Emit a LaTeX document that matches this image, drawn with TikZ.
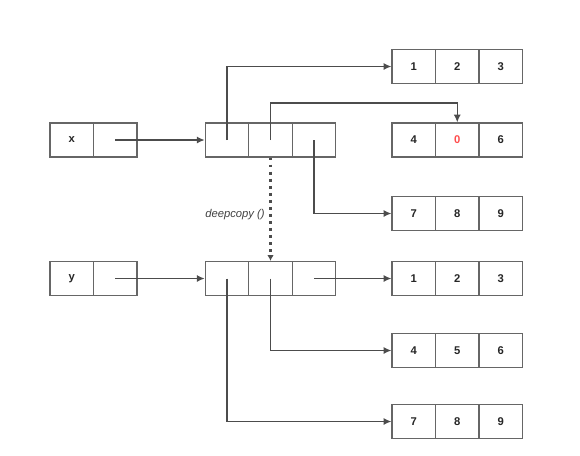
\documentclass[tikz,border=0pt]{standalone}
\usepackage{fontspec}
\setmainfont{Liberation Sans}
\usetikzlibrary{arrows.meta}
\tikzset{
    cell/.style={draw=black!60, line width=0.9pt, minimum width=1.0875cm, minimum height=0.85cm,
      inner sep=0pt, font=\footnotesize\bfseries, text=black!85},
    ptr/.style={draw=black!70, line width=0.9pt, -{Latex[length=5.5pt,width=5pt]}},
  }
\begin{document}
\begin{tikzpicture}[x=0.025cm,y=-0.025cm]
				  \useasboundingbox (0,0) rectangle (580,455);
				  %variables
				  \node[cell] (x1) at (71.75,140) {x};
				  \node[cell] (x2) at (115.25,140) {};
				  \node[cell] (y1) at (71.75,278.5) {y};
				  \node[cell] (y2) at (115.25,278.5) {};
				  %outer lists
				  \foreach \i/\cx in {1/227,2/270.5,3/314}{
				    \node[cell] (m\i) at (\cx,140) {};
				    \node[cell] (n\i) at (\cx,278.5) {};
				  }
				  %inner lists
				  \foreach \r/\cy/\u/\v/\w in {a/66.5/1/2/3, b/140/4/{\textcolor{red!70}{0}}/6, c/213.5/7/8/9,
				                              d/278.5/1/2/3, e/350.5/4/5/6, f/421.5/7/8/9}{
				    \node[cell] (\r1) at (413.75,\cy) {\u};
				    \node[cell] (\r2) at (457.25,\cy) {\v};
				    \node[cell] (\r3) at (500.75,\cy) {\w};
				  }
				  %pointers of x
				  \draw[ptr] (x2.center) -- (m1.west);
				  \draw[ptr] (m1.center) |- (a1.west);
				  \coordinate (k) at (270.5,103);
				  \draw[ptr] (m2.center) -- (k) -| (b2.north);
				  \draw[ptr] (m3.center) |- (c1.west);
				  %copy
				  \draw[ptr, line width=1.6pt, dash pattern=on 2pt off 3pt, -{Latex[length=4pt,width=4.5pt]}]
				    (m2.south) -- (n2.north)
				    node[pos=0.55, left, font=\footnotesize\itshape, text=black!75] {deepcopy ()};
				  %pointers of y
				  \draw[ptr] (y2.center) -- (n1.west);
				  \draw[ptr] (n3.center) -- (d1.west);
				  \draw[ptr] (n2.center) |- (e1.west);
				  \draw[ptr] (n1.center) |- (f1.west);
				  \end{tikzpicture}
\end{document}
